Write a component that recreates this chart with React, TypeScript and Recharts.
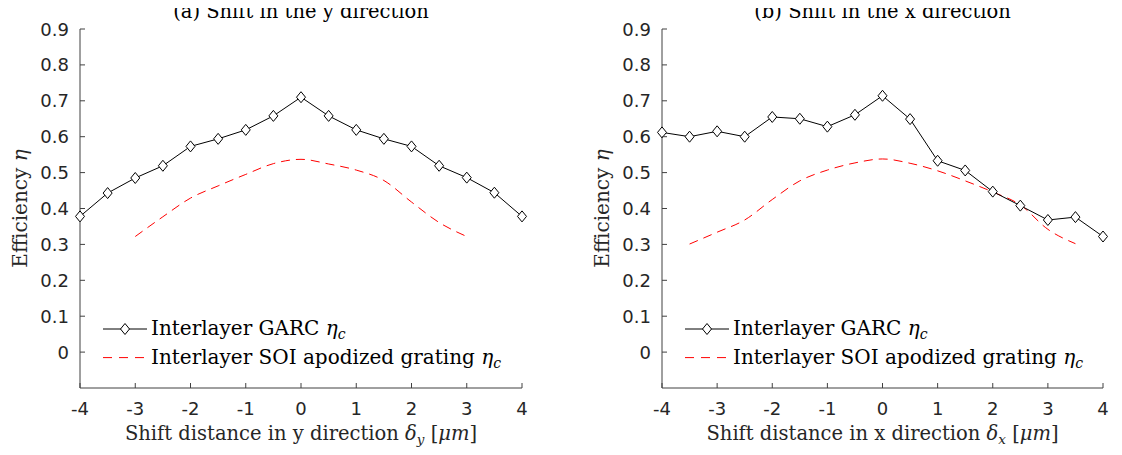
import { LineChart, Line, XAxis, YAxis, Legend } from 'recharts';

// shift positions (um)
const shifts = [-4, -3.5, -3, -2.5, -2, -1.5, -1, -0.5, 0, 0.5, 1, 1.5, 2, 2.5, 3, 3.5, 4];

// (a) shift in y
const garcY = [0.378, 0.443, 0.485, 0.519, 0.573, 0.594, 0.619, 0.658, 0.710, 0.658, 0.619, 0.594, 0.573, 0.519, 0.486, 0.444, 0.378];
const soiShiftsY = [-3, -2.5, -2, -1.5, -1, -0.5, 0, 0.5, 1, 1.5, 2, 2.5, 3];
const soiY = [0.322, 0.377, 0.429, 0.463, 0.495, 0.525, 0.537, 0.524, 0.507, 0.478, 0.418, 0.361, 0.322];

// (b) shift in x
const garcX = [0.612, 0.600, 0.615, 0.600, 0.655, 0.650, 0.628, 0.661, 0.714, 0.649, 0.533, 0.506, 0.447, 0.408, 0.368, 0.376, 0.322];
const soiShiftsX = [-3.5, -3, -2.5, -2, -1.5, -1, -0.5, 0, 0.5, 1, 1.5, 2, 2.5, 3, 3.5];
const soiX = [0.301, 0.334, 0.368, 0.425, 0.477, 0.507, 0.527, 0.538, 0.526, 0.505, 0.477, 0.446, 0.410, 0.342, 0.302];

const xTicks = [-4, -3, -2, -1, 0, 1, 2, 3, 4];
const yTicks = [0, 0.1, 0.2, 0.3, 0.4, 0.5, 0.6, 0.7, 0.8, 0.9];

const SANS = '"DejaVu Sans", sans-serif';
const SERIF = '"DejaVu Serif", serif';
const AXIS = '#404040';

function buildRows(garc: number[], soiXs: number[], soi: number[]) {
    return shifts.map((x, i) => {
        const j = soiXs.indexOf(x);
        return { x, garc: garc[i], soi: j >= 0 ? soi[j] : undefined };
    });
}

const Diamond = (p: any) => {
    const { cx, cy, index } = p;
    if (cx == null || cy == null) return <g key={`n-${index}`} />;
    return (
        <path
            key={`d-${index}`}
            d={`M${cx},${cy - 5.5} L${cx + 4.5},${cy} L${cx},${cy + 5.5} L${cx - 4.5},${cy} Z`}
            fill="#fff"
            stroke="#000"
            strokeWidth={1}
        />
    );
};

const YTick = (p: any) => {
    const { x, y, payload } = p;
    return (
        <g>
            <line x1={x + 11} x2={x + 16} y1={y} y2={y} stroke={AXIS} />
            <text x={x} y={y + 6.5} textAnchor="end" fontFamily={SANS} fontSize={18} fill="#262626">
                {String(payload.value)}
            </text>
        </g>
    );
};

const XTick = (p: any) => {
    const { x, y, payload } = p;
    return (
        <g>
            <line x1={x} x2={x} y1={y - 12} y2={y - 17} stroke={AXIS} />
            <text x={x} y={y + 15} textAnchor="middle" fontFamily={SANS} fontSize={18} fill="#262626">
                {String(payload.value)}
            </text>
        </g>
    );
};

const LegendBox = () => (
    <svg width={460} height={60}>
        <line x1={8} x2={52} y1={15} y2={15} stroke="#000" strokeWidth={1} />
        <path d="M30,9.5 L34.5,15 L30,20.5 L25.5,15 Z" fill="#fff" stroke="#000" />
        <text x={56} y={21} fontFamily={SERIF} fontSize={20} fill="#000">
            Interlayer GARC <tspan fontStyle="italic">η</tspan>
            <tspan fontStyle="italic" fontSize={14} dy={4}>c</tspan>
        </text>
        <line x1={8} x2={52} y1={43.6} y2={43.6} stroke="#ff0000" strokeWidth={1} strokeDasharray="9 7" />
        <text x={56} y={49.6} fontFamily={SERIF} fontSize={20} fill="#000">
            Interlayer SOI apodized grating <tspan fontStyle="italic">η</tspan>
            <tspan fontStyle="italic" fontSize={14} dy={4}>c</tspan>
        </text>
    </svg>
);

interface PanelProps {
    title: string;
    dir: string;
    rows: { x: number; garc: number; soi?: number }[];
    width: number;
    yAxisWidth: number;
    marginRight: number;
}

function Panel(props: PanelProps) {
    const plotLeft = props.yAxisWidth;
    const plotRight = props.width - props.marginRight;

    const xLabel = (lp: any) => {
        const vb = lp.viewBox;
        return (
            <text x={vb.x + vb.width / 2} y={vb.y + 52} textAnchor="middle" fontFamily={SERIF} fontSize={19.5} fill="#262626">
                Shift distance in {props.dir} direction <tspan fontStyle="italic">δ</tspan>
                <tspan fontStyle="italic" fontSize={13.5} dy={4}>{props.dir}</tspan>
                <tspan dy={-4}> [</tspan>
                <tspan fontStyle="italic">μm</tspan>
                <tspan>]</tspan>
            </text>
        );
    };

    const yLabel = (lp: any) => {
        const vb = lp.viewBox;
        const lx = vb.x + vb.width - 53;
        const ly = vb.y + vb.height / 2;
        return (
            <text x={lx} y={ly} transform={`rotate(-90 ${lx} ${ly})`} textAnchor="middle" fontFamily={SERIF} fontSize={20} fill="#262626">
                Efficiency <tspan fontStyle="italic">η</tspan>
            </text>
        );
    };

    return (
        <div style={{ position: 'relative', width: props.width, height: 448 }}>
            <LineChart
                width={props.width}
                height={448}
                data={props.rows}
                margin={{ top: 29, right: props.marginRight, left: 0, bottom: 0 }}
            >
                <XAxis
                    dataKey="x"
                    type="number"
                    domain={[-4, 4]}
                    ticks={xTicks}
                    height={60}
                    tickSize={0}
                    tickMargin={12}
                    tickLine={false}
                    tick={<XTick />}
                    axisLine={{ stroke: AXIS }}
                    label={{ content: xLabel }}
                />
                <YAxis
                    type="number"
                    domain={[-0.1, 0.9]}
                    ticks={yTicks}
                    width={props.yAxisWidth}
                    tickSize={0}
                    tickMargin={11}
                    tickLine={false}
                    tick={<YTick />}
                    axisLine={{ stroke: AXIS }}
                    label={{ content: yLabel }}
                />
                <Legend
                    layout="vertical"
                    align="center"
                    verticalAlign="middle"
                    content={<LegendBox />}
                    wrapperStyle={{ left: plotLeft + 15, top: 314, width: 460 }}
                />
                <Line
                    type="monotone"
                    dataKey="soi"
                    stroke="#ff0000"
                    strokeWidth={1}
                    strokeDasharray="9 6"
                    dot={false}
                    isAnimationActive={false}
                />
                <Line
                    type="linear"
                    dataKey="garc"
                    stroke="#000"
                    strokeWidth={1}
                    dot={Diamond}
                    isAnimationActive={false}
                />
            </LineChart>
            <div
                style={{
                    position: 'absolute',
                    top: 1,
                    left: plotLeft,
                    width: plotRight - plotLeft,
                    textAlign: 'center',
                    fontFamily: SERIF,
                    fontSize: 19.5,
                    lineHeight: '22px',
                    color: '#000',
                    whiteSpace: 'nowrap',
                }}
            >
                {props.title}
            </div>
        </div>
    );
}

export default function App() {
    return (
        <div style={{ display: 'flex', marginTop: -8 }}>
            <Panel
                title="(a) Shift in the y direction"
                dir="y"
                rows={buildRows(garcY, soiShiftsY, soiY)}
                width={561}
                yAxisWidth={72}
                marginRight={47}
            />
            <Panel
                title="(b) Shift in the x direction"
                dir="x"
                rows={buildRows(garcX, soiShiftsX, soiX)}
                width={545}
                yAxisWidth={93}
                marginRight={11}
            />
        </div>
    );
}
